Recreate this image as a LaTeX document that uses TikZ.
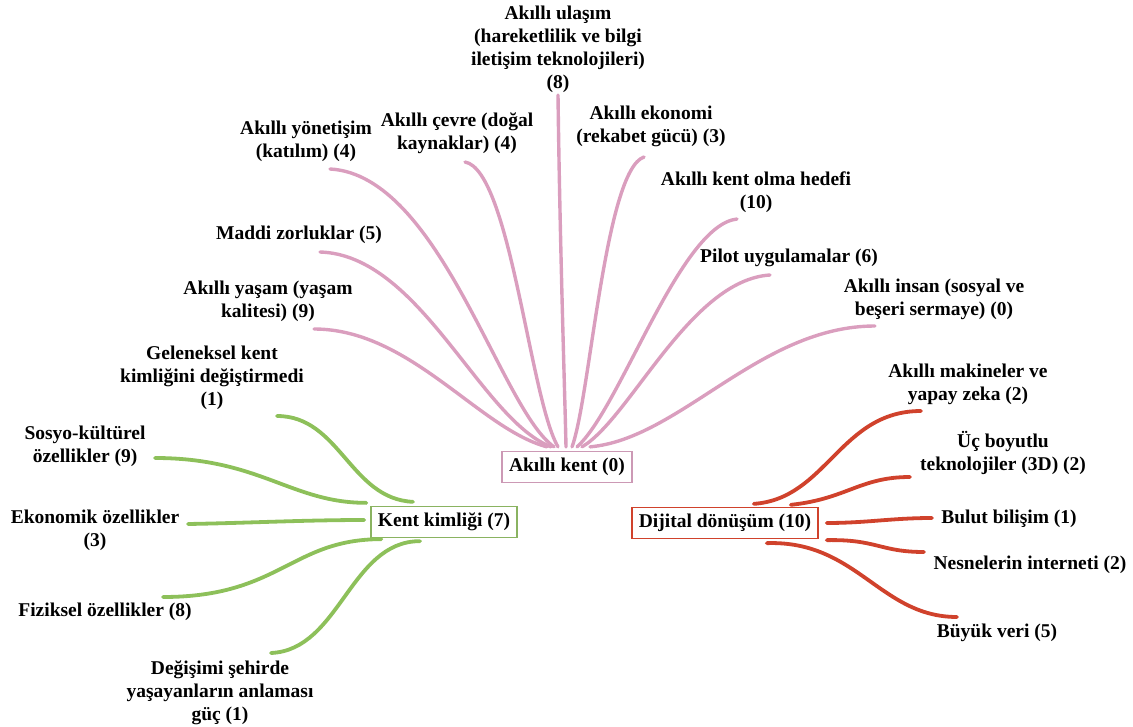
\documentclass[tikz,border=0pt]{standalone}
\usepackage{fontspec}
\setmainfont{Liberation Serif}
\usepackage{tikz}

\definecolor{pinkc}{RGB}{218,158,190}
\definecolor{greenc}{RGB}{141,192,90}
\definecolor{redc}{RGB}{208,66,44}

\begin{document}
\begin{tikzpicture}[x=1pt, y=-1pt,
  font=\fontsize{19.5}{23}\selectfont\bfseries,
  lbl/.style={align=center, inner sep=0pt},
  hub/.style={draw, line width=1.3pt, fill=white, inner xsep=7pt, minimum height=31pt},
  pinkl/.style={draw=pinkc, line width=3.4pt, line cap=round},
  greenl/.style={draw=greenc, line width=3.8pt, line cap=round},
  redl/.style={draw=redc, line width=3.8pt, line cap=round}]
\useasboundingbox (0,0) rectangle (1133,727);

% centres
\node[hub, draw=pinkc!85!gray] (akilli) at (567,467) {Akıllı kent (0)};
\node[hub, draw=greenc!80!gray] (kimlik) at (444,522) {Kent kimliği (7)};
\node[hub, draw=redc] (dijital) at (725,523) {Dijital dönüşüm (10)};

% labels
\node[lbl] (ulasim) at (558,49) {Akıllı ulaşım\\(hareketlilik ve bilgi\\iletişim teknolojileri)\\(8)};
\node[lbl] (yonetim) at (306,141) {Akıllı yönetişim\\(katılım) (4)};
\node[lbl] (cevre) at (457,133) {Akıllı çevre (doğal\\kaynaklar) (4)};
\node[lbl] (ekonomi) at (651,126) {Akıllı ekonomi\\(rekabet gücü) (3)};
\node[lbl] (hedef) at (756,192) {Akıllı kent olma hedefi\\(10)};
\node[lbl] (pilot) at (789,258) {Pilot uygulamalar (6)};
\node[lbl] (insan) at (934,299) {Akıllı insan (sosyal ve\\beşeri sermaye) (0)};
\node[lbl] (maddi) at (299,235) {Maddi zorluklar (5)};
\node[lbl] (yasam) at (268,301) {Akıllı yaşam (yaşam\\kalitesi) (9)};
\node[lbl] (gelenek) at (212,378) {Geleneksel kent\\kimliğini değiştirmedi\\(1)};
\node[lbl] (sosyo) at (85,446) {Sosyo-kültürel\\özellikler (9)};
\node[lbl] (ekonomik) at (95,530) {Ekonomik özellikler\\(3)};
\node[lbl] (fiziksel) at (105,612) {Fiziksel özellikler (8)};
\node[lbl] (degisim) at (220,693) {Değişimi şehirde\\yaşayanların anlaması\\güç (1)};
\node[lbl] (makine) at (968,384) {Akıllı makineler ve\\yapay zeka (2)};
\node[lbl] (ucb) at (1003,453) {Üç boyutlu\\teknolojiler (3D) (2)};
\node[lbl] (bulut) at (1009,519) {Bulut bilişim (1)};
\node[lbl] (nesne) at (1030,565) {Nesnelerin interneti (2)};
\node[lbl] (buyuk) at (997,633) {Büyük veri (5)};

% free ends of the branches
\coordinate (yasam-e) at (314,329);
\coordinate (maddi-e) at (320,252);
\coordinate (yonetim-e) at (330,169);
\coordinate (cevre-e) at (465,162);
\coordinate (ulasim-e) at (558,95);
\coordinate (ekonomi-e) at (644,157);
\coordinate (hedef-e) at (737,219);
\coordinate (pilot-e) at (770,275);
\coordinate (insan-e) at (875,326);
\coordinate (gelenek-e) at (277,416);
\coordinate (sosyo-e) at (155,458);
\coordinate (ekonomik-e) at (188,524);
\coordinate (fiziksel-e) at (163,597);
\coordinate (degisim-e) at (271,653);
\coordinate (makine-e) at (921,411);
\coordinate (ucb-e) at (910,477);
\coordinate (bulut-e) at (932,518);
\coordinate (nesne-e) at (924,552);
\coordinate (buyuk-e) at (957,617);

% pink branches
\draw[pinkl] (yasam-e) .. controls +(96,0) and +(-68,-18) .. ([xshift=-20pt,yshift=4pt]akilli.north);
\draw[pinkl] (maddi-e) .. controls +(100,3) and +(-71,-28) .. ([xshift=-16pt,yshift=4pt]akilli.north);
\draw[pinkl] (yonetim-e) .. controls +(110,6) and +(-54,-38) .. ([xshift=-13pt,yshift=4pt]akilli.north);
\draw[pinkl] (cevre-e) .. controls +(45,8) and +(-28,-48) .. ([xshift=-9pt,yshift=4pt]akilli.north);
\draw[pinkl] (ulasim-e) .. controls +(2,155) and +(-1,-48) .. ([xshift=-1pt,yshift=4pt]akilli.north);
\draw[pinkl] (ekonomi-e) .. controls +(-39,13) and +(18,-48) .. ([xshift=5pt,yshift=4pt]akilli.north);
\draw[pinkl] (hedef-e) .. controls +(-57,6) and +(43,-38) .. ([xshift=10pt,yshift=4pt]akilli.north);
\draw[pinkl] (pilot-e) .. controls +(-80,5) and +(48,-28) .. ([xshift=15pt,yshift=4pt]akilli.north);
\draw[pinkl] (insan-e) .. controls +(-115,0) and +(90,-8) .. ([xshift=23pt,yshift=4pt]akilli.north);

% green branches
\draw[greenl] (gelenek-e) .. controls +(63,0) and +(-63,-3) .. ([xshift=-31pt,yshift=4pt]kimlik.north);
\draw[greenl] (sosyo-e) .. controls +(105,0) and +(-75,0) .. ([xshift=-4pt,yshift=3pt]kimlik.north west);
\draw[greenl] (ekonomik-e) .. controls +(60,-1) and +(-60,0) .. ([xshift=-6pt,yshift=2pt]kimlik.west);
\draw[greenl] (fiziksel-e) .. controls +(117,0) and +(-90,0) .. ([xshift=11pt,yshift=-1pt]kimlik.south west);
\draw[greenl] (degisim-e) .. controls +(69,-3) and +(-70,0) .. ([xshift=-24pt,yshift=-3pt]kimlik.south);

% red branches
\draw[redl] (makine-e) .. controls +(-81,0) and +(73,-5) .. ([xshift=-65pt,yshift=3pt]dijital.north east);
\draw[redl] (ucb-e) .. controls +(-50,0) and +(56,-6) .. ([xshift=-28pt,yshift=2pt]dijital.north east);
\draw[redl] (bulut-e) .. controls +(-40,0) and +(40,0) .. ([xshift=8pt,yshift=0pt]dijital.east);
\draw[redl] (nesne-e) .. controls +(-44,0) and +(50,-1) .. ([xshift=8pt,yshift=-1pt]dijital.south east);
\draw[redl] (buyuk-e) .. controls +(-77,0) and +(90,-3) .. ([xshift=-52pt,yshift=-4pt]dijital.south east);
\end{tikzpicture}
\end{document}
